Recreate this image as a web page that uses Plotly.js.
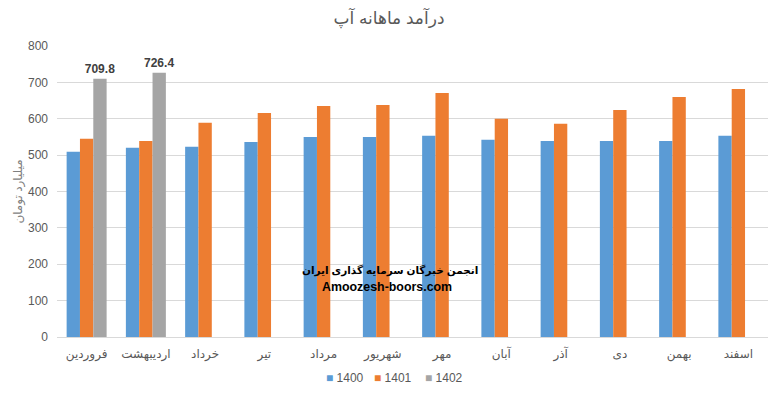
<!DOCTYPE html>
<html>
<head>
<meta charset="utf-8">
<script src="https://cdn.plot.ly/plotly-3.0.1.min.js"></script>
<style>html,body{margin:0;padding:0;background:#fff;}#chart{width:778px;height:393px;}</style>
</head>
<body>
<div id="chart"></div>
<script>
const months = ["فروردین","اردیبهشت","خرداد","تیر","مرداد","شهریور","مهر","آبان","آذر","دی","بهمن","اسفند"];
const y1400 = [509,520,523,536,550,550,553,542,539,539,539,553];
const y1401 = [545,539,589,616,635,638,671,600,586,624,660,682];
const y1402 = [709.8,726.4,null,null,null,null,null,null,null,null,null,null];
const labels1402 = ["709.8","726.4","","","","","","","","","",""];
const seriesNames = ["1400","1401","1402"];
const colors = ["#5b9bd5","#ed7d31","#a5a5a5"];
const titleText = "درآمد ماهانه آپ";
const yTitle = "میلیارد تومان";
const watermark1 = "انجمن خبرگان سرمایه گذاری ایران";
const watermark2 = "Amoozesh-boors.com";

const fontFam = "Liberation Sans, DejaVu Sans, Arial, sans-serif";
const traces = [
  {type:"bar", name:seriesNames[0], x:months, y:y1400, marker:{color:colors[0]}, hoverinfo:"y"},
  {type:"bar", name:seriesNames[1], x:months, y:y1401, marker:{color:colors[1]}, hoverinfo:"y"},
  {type:"bar", name:seriesNames[2], x:months, y:y1402, marker:{color:colors[2]},
   text:labels1402, texttemplate:"<b>%{text}</b>", textposition:"outside", cliponaxis:false, constraintext:"none",
   textfont:{size:12, color:"#404040", family:fontFam}, hoverinfo:"y"}
];
// legend drawn as centered annotations from seriesNames / colors
const legendX = [0.405, 0.473, 0.544];
const legendAnn = seriesNames.map((n,i)=>({
  text:'<span style="color:'+colors[i]+'">■</span> '+n,
  xref:"paper", yref:"paper", x:legendX[i], y:-(378-337)/291, xanchor:"center", yanchor:"middle",
  showarrow:false, font:{size:12, color:"#595959", family:fontFam}
}));
const layout = {
  width:778, height:393,
  margin:{l:57, r:10, t:46, b:56},
  paper_bgcolor:"#fff", plot_bgcolor:"#fff",
  font:{family:fontFam, color:"#595959", size:12},
  title:{text:titleText, x:0.5, xanchor:"center", y:0.955, yanchor:"middle", font:{size:17, color:"#595959", family:fontFam}},
  barmode:"group", bargap:0.325, bargroupgap:0,
  showlegend:false,
  xaxis:{type:"category", showgrid:false, showline:true, linecolor:"#d9d9d9", linewidth:1, ticks:"", ticklabelstandoff:6, tickfont:{size:12, color:"#595959"}, automargin:false, fixedrange:true},
  yaxis:{range:[0,800], dtick:100, tick0:0, showgrid:true, gridcolor:"#d9d9d9", gridwidth:1, zeroline:false, showline:false, ticks:"", ticklabelstandoff:8,
    tickfont:{size:12, color:"#595959"}, automargin:false,
    title:{text:yTitle, standoff:2, font:{size:12, color:"#7f7f7f"}}},
  annotations:[
    {text:"<b>"+watermark1+"</b>", xref:"paper", yref:"paper", x:0.468, y:(337-270)/291, xanchor:"center", yanchor:"middle", showarrow:false, font:{size:10.5, color:"#000", family:fontFam}},
    {text:"<b>"+watermark2+"</b>", xref:"paper", yref:"paper", x:0.464, y:(337-287)/291, xanchor:"center", yanchor:"middle", showarrow:false, font:{size:12.4, color:"#000", family:fontFam}}
  ].concat(legendAnn)
};
Plotly.newPlot("chart", traces, layout, {displayModeBar:false, staticPlot:true});
</script>
</body>
</html>
